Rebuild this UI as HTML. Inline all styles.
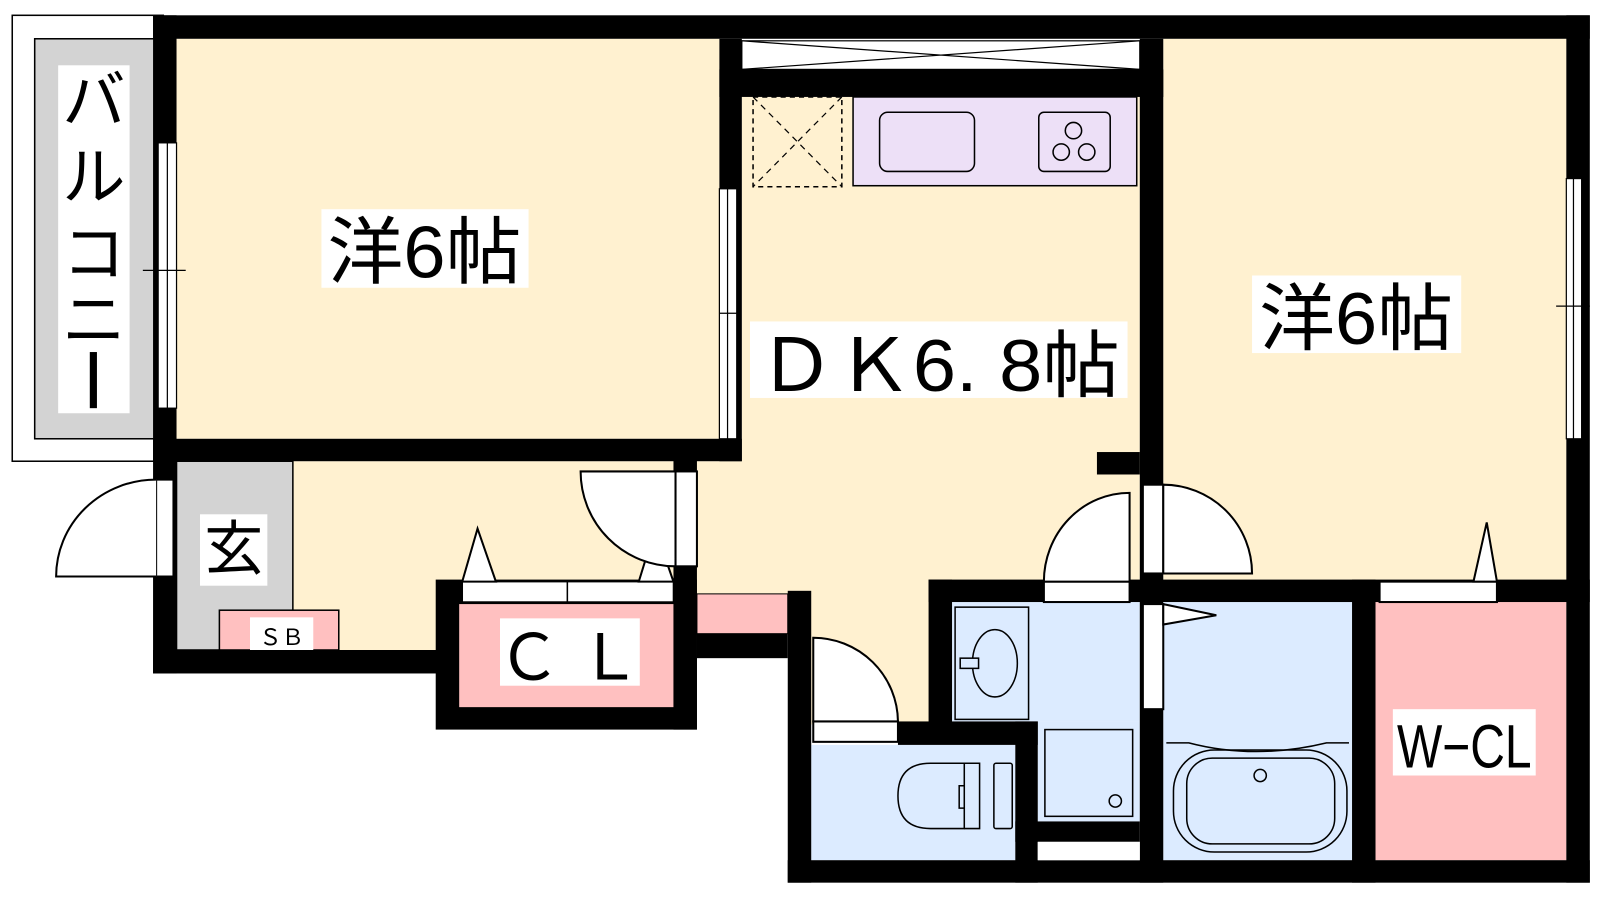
<!DOCTYPE html>
<html><head><meta charset="utf-8"><style>
html,body{margin:0;padding:0;background:#fff;}
svg{display:block}
text{font-family:"Liberation Sans","Noto Sans CJK JP",sans-serif;fill:#000}
</style></head><body>
<svg width="1600" height="900" viewBox="0 0 1568 882" xmlns="http://www.w3.org/2000/svg">
<!-- balcony -->
<rect x="12" y="15" width="148" height="437" fill="#fff" stroke="#000" stroke-width="1.5"/>
<rect x="34" y="38" width="120" height="392" fill="#d3d3d3" stroke="#000" stroke-width="1.5"/>
<rect x="57" y="64" width="70" height="341" fill="#fff"/>
<text x="92" y="120" font-size="62" text-anchor="middle">バ</text>
<text x="92" y="195" font-size="62" text-anchor="middle">ル</text>
<text x="92" y="270" font-size="62" text-anchor="middle">コ</text>
<text x="92" y="335" font-size="62" text-anchor="middle">ニ</text>
<rect x="88" y="345" width="7" height="55" fill="#000"/>

<!-- floors -->
<rect x="173" y="38" width="532" height="392" fill="#fff1d0"/>
<rect x="727" y="95" width="390" height="490" fill="#fff1d0"/>
<rect x="1140" y="38" width="395" height="532" fill="#fff1d0"/>
<rect x="173" y="452" width="490" height="185" fill="#fff1d0"/>
<rect x="663" y="452" width="110" height="130" fill="#fff1d0"/>
<rect x="773" y="570" width="140" height="140" fill="#fff1d0"/>
<rect x="173" y="452" width="114" height="185" fill="#d3d3d3" stroke="#000" stroke-width="1.5"/>
<rect x="215" y="598" width="117" height="39" fill="#ffc0c0" stroke="#000" stroke-width="1.5"/>
<rect x="245" y="605" width="62" height="32" fill="#fff"/>
<text x="276" y="632" font-size="22" text-anchor="middle">ＳＢ</text>
<rect x="196" y="504" width="66" height="70" fill="#fff"/>
<text x="229" y="558" font-size="58" text-anchor="middle">玄</text>

<!-- CL -->
<rect x="427" y="568" width="256" height="147" fill="#000"/>
<rect x="450" y="592" width="210" height="101" fill="#ffc0c0"/>
<rect x="453" y="570" width="207" height="20" fill="#fff" stroke="#000" stroke-width="1.5"/>
<line x1="556" y1="570" x2="556" y2="590" stroke="#000" stroke-width="1.5"/>
<polygon points="453,570 468,518 486,570" fill="#fff" stroke="#000" stroke-width="2"/>
<polygon points="626,570 642,518 660,570" fill="#fff" stroke="#000" stroke-width="2"/>
<rect x="490" y="606" width="137" height="66" fill="#fff"/>
<text x="558" y="666" font-size="62" text-anchor="middle">Ｃ Ｌ</text>
<rect x="683" y="582" width="89" height="39" fill="#ffc0c0" stroke="#000" stroke-width="1"/>
<rect x="683" y="621" width="89" height="24" fill="#000"/>

<!-- bathrooms -->
<rect x="795" y="730" width="200" height="113" fill="#dcebff"/>
<rect x="933" y="590" width="184" height="117" fill="#dcebff"/>
<rect x="1017" y="707" width="100" height="98" fill="#dcebff"/>
<rect x="1140" y="590" width="185" height="253" fill="#dcebff"/>
<rect x="1348" y="590" width="187" height="253" fill="#ffc0c0"/>

<!-- walls -->
<g fill="#000">
<rect x="150" y="15" width="1408" height="23"/>
<rect x="150" y="15" width="23" height="645"/>
<rect x="150" y="430" width="577" height="22"/>
<rect x="150" y="637" width="280" height="23"/>
<rect x="705" y="38" width="22" height="414"/>
<rect x="705" y="68" width="435" height="27"/>
<rect x="1117" y="38" width="23" height="827"/>
<rect x="1075" y="443" width="42" height="22"/>
<rect x="1535" y="15" width="23" height="850"/>
<rect x="660" y="431" width="23" height="284"/>
<rect x="772" y="579" width="23" height="286"/>
<rect x="910" y="568" width="648" height="22"/>
<rect x="910" y="568" width="23" height="147"/>
<rect x="880" y="707" width="137" height="23"/>
<rect x="995" y="707" width="22" height="158"/>
<rect x="995" y="805" width="122" height="20"/>
<rect x="1325" y="568" width="23" height="297"/>
<rect x="772" y="843" width="786" height="22"/>
</g>
<rect x="1017" y="825" width="100" height="18" fill="#fff"/>

<!-- windows -->
<g fill="#fff" stroke="#000" stroke-width="1.2">
<rect x="155" y="140" width="18" height="260"/><line x1="164" y1="140" x2="164" y2="400"/>
<rect x="705" y="185" width="17" height="245"/><line x1="713" y1="185" x2="713" y2="430"/>
<rect x="1535" y="175" width="15" height="255"/><line x1="1542" y1="175" x2="1542" y2="430"/>
<rect x="727" y="40" width="390" height="28"/>
</g>
<line x1="140" y1="265" x2="182" y2="265" stroke="#000" stroke-width="1.2"/>
<line x1="705" y1="307" x2="724" y2="307" stroke="#000" stroke-width="1.2"/>
<line x1="1525" y1="300" x2="1558" y2="300" stroke="#000" stroke-width="1.2"/>
<path d="M727 40 L1117 68 M727 68 L1117 40" stroke="#000" stroke-width="1.2"/>

<!-- doors -->
<g fill="#fff" stroke="#000" stroke-width="2">
<rect x="153" y="470" width="17" height="95"/>
<path d="M153 470 A98 95 0 0 0 55 565 L153 565"/>
<rect x="662" y="462" width="21" height="93"/>
<path d="M569 462 L662 462 L662 555 A93 93 0 0 1 569 462Z"/>
<rect x="797" y="707" width="83" height="20"/>
<path d="M797 707 L797 625 A83 83 0 0 1 880 707Z"/>
<rect x="1023" y="570" width="84" height="20"/>
<path d="M1107 570 L1107 483 A84 87 0 0 0 1023 570Z"/>
<rect x="1120" y="475" width="20" height="87"/>
<path d="M1140 475 A87 87 0 0 1 1227 562 L1140 562Z"/>
<rect x="1120" y="592" width="20" height="103"/>
<polygon points="1140,592 1192,603 1140,612"/>
<rect x="1352" y="570" width="115" height="20"/>
<polygon points="1444,570 1457,512 1467,570"/>
</g>

<!-- kitchen -->
<rect x="738" y="95" width="87" height="88" fill="none" stroke="#000" stroke-width="1.5" stroke-dasharray="5,4"/>
<path d="M738 95 L825 183 M825 95 L738 183" stroke="#000" stroke-width="1.2" stroke-dasharray="6,5"/>
<rect x="836" y="95" width="278" height="87" fill="#ede0f7" stroke="#000" stroke-width="1.5"/>
<rect x="862" y="110" width="93" height="58" rx="8" fill="none" stroke="#000" stroke-width="1.5"/>
<rect x="1018" y="110" width="70" height="58" rx="5" fill="none" stroke="#000" stroke-width="1.5"/>
<g fill="none" stroke="#000" stroke-width="1.5">
<circle cx="1052" cy="128" r="8"/><circle cx="1040" cy="149" r="8"/><circle cx="1065" cy="149" r="8"/>
</g>

<!-- fixtures -->
<g fill="none" stroke="#000" stroke-width="1.5">
<rect x="936" y="595" width="72" height="110"/>
<ellipse cx="975" cy="650" rx="22" ry="33"/>
<rect x="941" y="645" width="18" height="10" fill="#dcebff"/>
<rect x="1024" y="715" width="86" height="85"/>
<circle cx="1093" cy="785" r="6"/>
<path d="M880 780 Q880 748 912 748 L945 748 L945 812 L912 812 Q880 812 880 780Z"/>
<path d="M945 748 L960 748 L960 812 L945 812 M945 770 L940 770 L940 792 L945 792"/>
<rect x="974" y="748" width="18" height="64" rx="2"/>
<path d="M1143 728 L1165 728 Q1230 745 1300 728 L1322 728"/>
<rect x="1150" y="735" width="170" height="100" rx="40"/>
<rect x="1163" y="743" width="145" height="84" rx="25"/>
<circle cx="1235" cy="760" r="6"/>
</g>

<!-- labels -->
<rect x="315" y="205" width="203" height="77" fill="#fff"/>
<text x="416" y="272" font-size="72" text-anchor="middle" textLength="190" lengthAdjust="spacingAndGlyphs">洋6帖</text>
<rect x="1227" y="270" width="205" height="76" fill="#fff"/>
<text x="1329" y="337" font-size="72" text-anchor="middle" textLength="190" lengthAdjust="spacingAndGlyphs">洋6帖</text>
<rect x="735" y="315" width="370" height="75" fill="#fff"/>
<text x="920" y="383" font-size="72" text-anchor="middle" textLength="355" lengthAdjust="spacingAndGlyphs">ＤＫ6. 8帖</text>
<rect x="1365" y="695" width="140" height="65" fill="#fff"/>
<text x="1435" y="752" font-size="60" text-anchor="middle" textLength="132" lengthAdjust="spacingAndGlyphs">W−CL</text>
</svg>
</body></html>
